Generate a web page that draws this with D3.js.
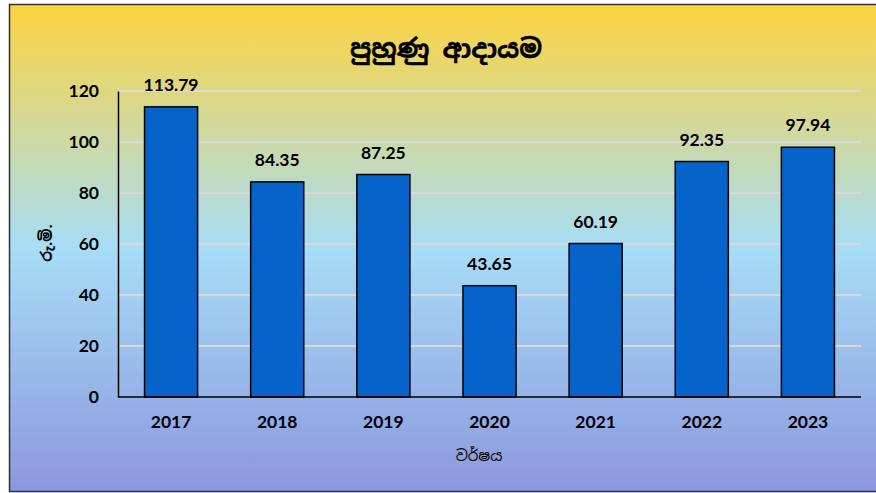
<!DOCTYPE html>
<html><head><meta charset="utf-8">
<script src="https://cdn.jsdelivr.net/npm/d3@7"></script>
<style>body{margin:0;background:#fff}svg{display:block}</style>
</head><body>
<script>
const years = ["2017","2018","2019","2020","2021","2022","2023"];
const values = [113.79, 84.35, 87.25, 43.65, 60.19, 92.35, 97.94];
const yTicks = [0,20,40,60,80,100,120];
const title = "පුහුණු ආදායම";
const yLabel = "රු.මි.";
const xLabel = "වර්ෂය";

(function(){
const W = 876, H = 493;
const svg = d3.select("body").append("svg").attr("width", W).attr("height", H);
const defs = svg.append("defs");
const g = defs.append("linearGradient").attr("id","bg").attr("x1",0).attr("y1",0).attr("x2",0).attr("y2",1);
g.append("stop").attr("offset","0%").attr("stop-color","#FDD43F");
g.append("stop").attr("offset","50%").attr("stop-color","#A7DDF7");
g.append("stop").attr("offset","100%").attr("stop-color","#8C97DE");
svg.append("rect").attr("x",9.5).attr("y",4.5).attr("width",W+10).attr("height",487)
  .attr("fill","url(#bg)").attr("stroke","#333").attr("stroke-width",1.5);

const pl = 118, pr = 861, pt = 91, pb = 397;
const x = d3.scaleBand().domain(years).range([pl,pr]).paddingInner(0.5).paddingOuter(0.25);
const y = d3.scaleLinear().domain([0,120]).range([pb, pt]);
const font = "Lato, 'Open Sans', sans-serif";
const sinh = "'Noto Sans Sinhala','Iskoola Pota','Noto Serif Sinhala',sans-serif";

svg.append("g").selectAll("line").data(yTicks.filter(d=>d>0)).join("line")
  .attr("x1",pl).attr("x2",pr).attr("y1",d=>y(d)).attr("y2",d=>y(d))
  .attr("stroke","#D9D9D9").attr("stroke-width",2);

svg.append("g").selectAll("rect").data(values).join("rect")
  .attr("x",(d,i)=>x(years[i])).attr("width",x.bandwidth())
  .attr("y",d=>y(d)).attr("height",d=>pb-y(d))
  .attr("fill","#0563C9").attr("stroke","#000").attr("stroke-width",1.5);

const ya = svg.append("g").attr("transform",`translate(${pl},0)`)
  .call(d3.axisLeft(y).tickValues(yTicks).tickSize(0).tickPadding(19));
ya.select(".domain").attr("stroke","#000").attr("stroke-width",1.5);
ya.selectAll("text").attr("font-family",font).attr("font-weight","bold").attr("font-size",17.5).attr("fill","#000");

const xa = svg.append("g").attr("transform",`translate(0,${pb})`)
  .call(d3.axisBottom(x).tickSize(0).tickPadding(19));
xa.select(".domain").attr("stroke","#000").attr("stroke-width",1.5).attr("d",`M${pl},0H${pr}`);
xa.selectAll("text").attr("font-family",font).attr("font-weight","bold").attr("font-size",17.5).attr("fill","#000");

svg.append("g").selectAll("text").data(values).join("text")
  .attr("x",(d,i)=>x(years[i])+x.bandwidth()/2).attr("y",d=>y(d)-16)
  .attr("text-anchor","middle").attr("font-family",font).attr("font-weight","bold")
  .attr("font-size",17.5).attr("fill","#000").text(d=>d.toFixed(2));

svg.append("text").attr("x",446).attr("y",58).attr("text-anchor","middle")
  .attr("font-family",sinh).attr("font-weight","bold").attr("font-size",26).attr("stroke","#000").attr("stroke-width",0.4).text(title);
svg.append("text").attr("transform","translate(52,243) rotate(-90)").attr("text-anchor","middle")
  .attr("font-family",sinh).attr("font-weight","bold").attr("font-size",15).text(yLabel);
svg.append("text").attr("x",479).attr("y",461).attr("text-anchor","middle")
  .attr("font-family",sinh).attr("font-size",15).text(xLabel);
})();
</script>
</body></html>
